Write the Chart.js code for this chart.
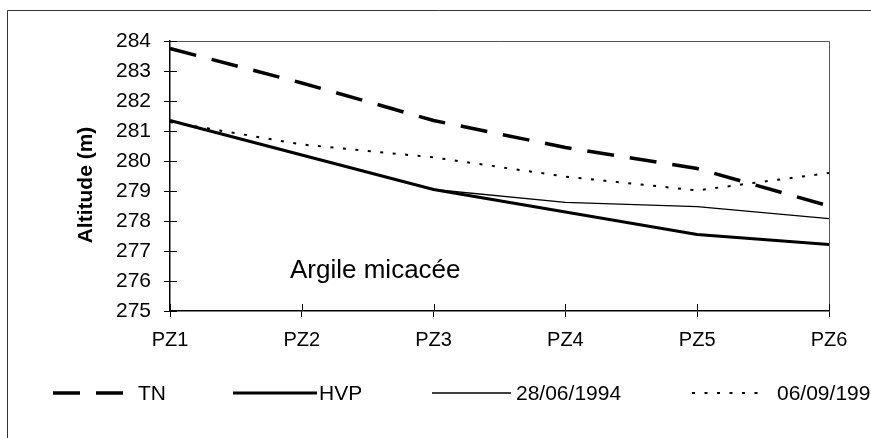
<!DOCTYPE html>
<html>
<head>
<meta charset="utf-8">
<script src="https://cdn.jsdelivr.net/npm/chart.js@4.4.0/dist/chart.umd.min.js"></script>
<style>
  body { margin: 0; background: #fff; }
  #wrap { width: 871px; height: 438px; }
</style>
</head>
<body>
<div id="wrap"><canvas id="chart" width="871" height="438"></canvas></div>
<script>
// piezometres
const labels = ['PZ1', 'PZ2', 'PZ3', 'PZ4', 'PZ5', 'PZ6'];
const tn = [283.75, 282.6, 281.35, 280.45, 279.75, 278.5];
const hvp = [281.35, 280.2, 279.05, 278.3, 277.55, 277.22];
const juin94 = [281.35, 280.2, 279.05, 278.62, 278.48, 278.08];
const sept94 = [281.3, 280.55, 280.12, 279.48, 279.02, 279.6];
const yMin = 275, yMax = 284;

const FONT = 'Liberation Sans, Arial, sans-serif';

// cadre, titre axe, texte et legende dessinés à la main
const extras = {
  id: 'extras',
  afterDraw(chart) {
    const ctx = chart.ctx;
    const a = chart.chartArea;
    const xs = chart.scales.x, ys = chart.scales.y;
    ctx.save();

    // outer frame
    ctx.strokeStyle = '#333';
    ctx.lineWidth = 1;
    ctx.beginPath();
    ctx.moveTo(7.5, 438); ctx.lineTo(7.5, 10.5); ctx.lineTo(871, 10.5);
    ctx.stroke();

    // plot area top / right
    ctx.strokeStyle = '#555';
    ctx.beginPath();
    ctx.moveTo(a.left, a.top + 0.5); ctx.lineTo(a.right + 0.5, a.top + 0.5); ctx.lineTo(a.right + 0.5, a.bottom);
    ctx.stroke();

    // inner half of ticks
    ctx.strokeStyle = '#000';
    ctx.beginPath();
    ys.ticks.forEach(t => {
      const y = Math.round(ys.getPixelForValue(t.value)) + 0.5;
      ctx.moveTo(a.left, y); ctx.lineTo(a.left + 7, y);
    });
    xs.ticks.forEach((t, i) => {
      const x = Math.round(xs.getPixelForTick(i)) + 0.5;
      ctx.moveTo(x, a.bottom); ctx.lineTo(x, a.bottom - 7);
    });
    ctx.stroke();

    // axis title
    ctx.fillStyle = '#000';
    ctx.font = 'bold 21px ' + FONT;
    ctx.textAlign = 'center';
    ctx.textBaseline = 'middle';
    ctx.translate(86, 185);
    ctx.rotate(-Math.PI / 2);
    ctx.fillText('Altitude (m)', 0, 0);
    ctx.setTransform(1, 0, 0, 1, 0, 0);

    ctx.font = '26px ' + FONT;
    ctx.textAlign = 'left';
    ctx.textBaseline = 'alphabetic';
    ctx.fillText('Argile micacée', 290, 278);

    // legend row
    const pos = [[53, 125, 138], [233, 317, 319], [432, 511, 516], [692, 763, 777]];
    const ly = 393;
    ctx.font = '21px ' + FONT;
    ctx.textBaseline = 'middle';
    chart.data.datasets.forEach((ds, i) => {
      const p = pos[i];
      ctx.strokeStyle = '#000';
      ctx.lineWidth = ds.borderWidth;
      ctx.setLineDash(ds.borderDash || []);
      ctx.beginPath();
      ctx.moveTo(p[0], ly); ctx.lineTo(p[1], ly);
      ctx.stroke();
      ctx.setLineDash([]);
      ctx.fillText(ds.label, p[2], ly + 1);
    });
    ctx.restore();
  }
};

new Chart(document.getElementById('chart'), {
  type: 'line',
  data: {
    labels: labels,
    datasets: [
      { label: 'TN', data: tn, borderColor: '#000', borderWidth: 3.5, borderDash: [27, 16] },
      { label: 'HVP', data: hvp, borderColor: '#000', borderWidth: 3 },
      { label: '28/06/1994', data: juin94, borderColor: '#000', borderWidth: 1.3 },
      { label: '06/09/1994', data: sept94, borderColor: '#000', borderWidth: 2, borderDash: [3, 9.5] }
    ]
  },
  options: {
    responsive: false,
    animation: false,
    events: [],
    elements: { point: { radius: 0 }, line: { tension: 0, fill: false, borderCapStyle: 'butt' } },
    layout: { padding: { left: 0, top: 41, right: 42, bottom: 0 } },
    plugins: { legend: { display: false }, tooltip: { enabled: false } },
    scales: {
      x: {
        offset: false,
        grid: { display: true, drawOnChartArea: false, tickLength: 6, color: '#000' },
        border: { color: '#000', width: 1.5 },
        ticks: { color: '#000', font: { family: FONT, size: 20 }, padding: 11, maxRotation: 0, autoSkip: false },
        afterFit: s => { s.height = 127; }
      },
      y: {
        min: yMin, max: yMax,
        grid: { display: true, drawOnChartArea: false, tickLength: 6, color: '#000' },
        border: { color: '#000', width: 1.5 },
        ticks: { stepSize: 1, color: '#000', font: { family: FONT, size: 21 }, padding: 13 },
        afterFit: s => { s.width = 170; }
      }
    }
  },
  plugins: [extras]
});
</script>
</body>
</html>
